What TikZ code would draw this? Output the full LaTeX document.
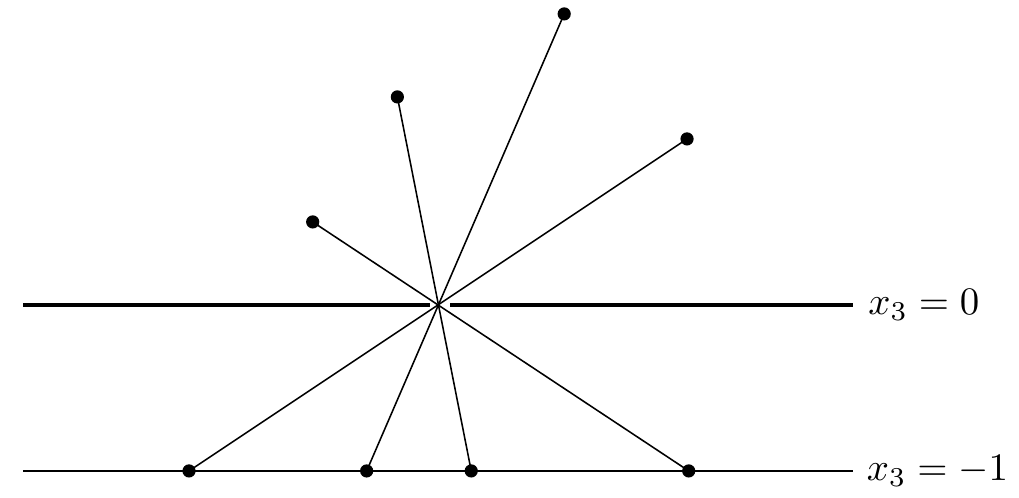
\documentclass[tikz,border=0pt]{standalone}
\usepackage{amssymb,amsmath}
\usepackage{tikz}
\usetikzlibrary{calc}
\tikzstyle{plane}=[line width=1.2pt]
\tikzstyle{ray}=[line width=0.4pt]
\tikzstyle{dot}=[circle,fill=black,inner sep=1.2pt]

\begin{document}
\begin{tikzpicture}[scale=1.5]
	\useasboundingbox (-2.639,-1.163) rectangle (3.5,1.837);
	\coordinate (O) at (0,0);
	\coordinate (A) at (-1.5,-1);
	\coordinate (B) at (-0.43,-1);
	\coordinate (C) at (0.2,-1);
	\coordinate (D) at (1.51,-1);
	\coordinate (E) at (1.5,1);
	\coordinate (F) at (0.76,1.753);
	\coordinate (G) at (-0.245,1.253);
	\coordinate (H) at (-0.755,0.5);

	\coordinate (P0) at (-2.5,0);
	\coordinate (P1) at (-0.05,0);
	\coordinate (P2) at (0.075,0);
	\coordinate (P3) at (2.5,0);
	\coordinate (Q0) at (-2.5,-1);
	\coordinate (Q1) at (2.5,-1);

	\draw[plane] (P0)--(P1);
	\draw[plane] (P2)--(P3) node[right]{$x_3=0$};
	\draw[ray] (Q0)--(Q1) node[right]{$x_3=-1$};

	\draw[ray] (A)--(E);
	\draw[ray] (B)--(F);
	\draw[ray] (C)--(G);
	\draw[ray] (D)--(H);

	\node[dot] (a) at (A) {};
	\node[dot] (b) at (B) {};
	\node[dot] (c) at (C) {};
	\node[dot] (d) at (D) {};
	\node[dot] (e) at (E) {};
	\node[dot] (f) at (F) {};
	\node[dot] (g) at (G) {};
	\node[dot] (h) at (H) {};
\end{tikzpicture}
\end{document}
